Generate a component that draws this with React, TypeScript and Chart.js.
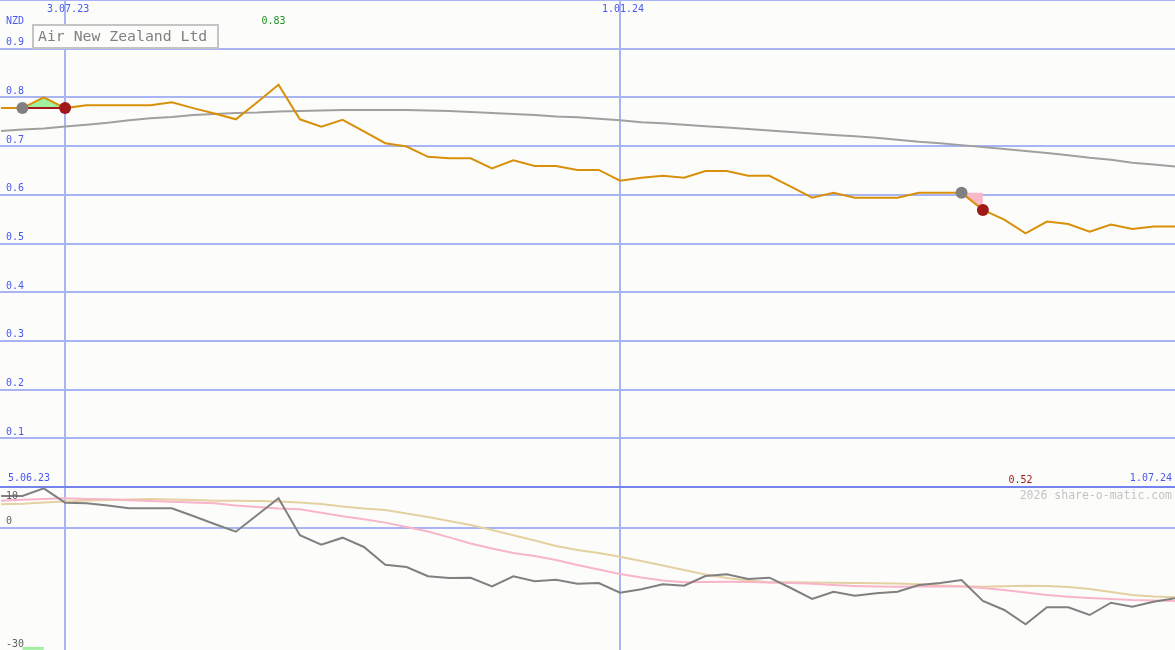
import React, { useEffect, useRef } from 'react';
import { Chart, registerables } from 'chart.js';

Chart.register(...registerables);

const FONT = '"DejaVu Sans Mono", "Liberation Mono", monospace';
const BG = '#fcfdfb';
const GRID = '#a8b4f4';
const GRID_DARK = '#7484ec';
const BLUE_TEXT = '#4858f0';

// weekly observations, week 0 .. week 55
const price = [
  0.778, 0.778, 0.8, 0.778, 0.784, 0.784, 0.784, 0.784, 0.79, 0.778,
  0.767, 0.755, 0.79, 0.826, 0.755, 0.74, 0.754, 0.73, 0.706, 0.699,
  0.678, 0.675, 0.675, 0.654, 0.671, 0.659, 0.659, 0.651, 0.651, 0.629,
  0.635, 0.639, 0.635, 0.649, 0.649, 0.639, 0.639, 0.617, 0.594, 0.604,
  0.594, 0.594, 0.594, 0.604, 0.604, 0.604, 0.569, 0.549, 0.521, 0.545,
  0.54, 0.524, 0.539, 0.53, 0.535, 0.535,
];

const longAverage = [
  0.731, 0.734, 0.736, 0.74, 0.744, 0.748, 0.753, 0.757, 0.76, 0.764,
  0.766, 0.768, 0.769, 0.771, 0.772, 0.773, 0.774, 0.774, 0.774, 0.774,
  0.773, 0.772, 0.77, 0.768, 0.766, 0.764, 0.761, 0.759, 0.756, 0.753,
  0.749, 0.747, 0.744, 0.741, 0.738, 0.735, 0.732, 0.729, 0.726, 0.723,
  0.72, 0.717, 0.713, 0.709, 0.706, 0.702, 0.698, 0.694, 0.69, 0.686,
  0.681, 0.676, 0.672, 0.666, 0.662, 0.658,
];

const momentum = [
  7.79, 7.79, 9.68, 6.15, 6.0, 5.46, 4.77, 4.77, 4.77, 2.88,
  0.92, -0.97, 3.13, 7.23, -1.85, -4.16, -2.44, -4.72, -9.07, -9.63,
  -11.91, -12.33, -12.26, -14.37, -11.91, -13.14, -12.75, -13.73, -13.55, -15.94,
  -15.1, -13.88, -14.22, -11.84, -11.42, -12.58, -12.26, -14.79, -17.48, -15.69,
  -16.67, -16.09, -15.69, -14.05, -13.56, -12.82, -17.98, -20.18, -23.69, -19.52,
  -19.52, -21.41, -18.39, -19.37, -18.15, -17.31,
];

const pinkAverage = [
  6.64, 6.86, 7.06, 7.23, 7.06, 6.98, 6.74, 6.56, 6.39, 6.2,
  6.0, 5.46, 5.09, 4.72, 4.53, 3.67, 2.81, 2.07, 1.26, 0.18,
  -0.92, -2.37, -3.87, -5.09, -6.2, -6.93, -7.91, -9.14, -10.25, -11.35,
  -12.21, -12.94, -13.39, -13.31, -13.26, -13.31, -13.44, -13.56, -13.75, -14.05,
  -14.29, -14.42, -14.47, -14.42, -14.34, -14.42, -14.79, -15.28, -15.89, -16.5,
  -16.92, -17.24, -17.48, -17.73, -17.85, -17.98,
];

const tanAverage = [
  5.75, 5.88, 6.2, 6.44, 6.69, 6.81, 6.93, 7.06, 6.93, 6.81,
  6.64, 6.61, 6.56, 6.44, 6.2, 5.83, 5.21, 4.72, 4.36, 3.5,
  2.64, 1.66, 0.67, -0.55, -1.85, -3.13, -4.48, -5.46, -6.2, -7.1,
  -8.16, -9.26, -10.37, -11.47, -12.33, -12.94, -13.39, -13.39, -13.44, -13.48,
  -13.56, -13.6, -13.68, -13.88, -14.17, -14.34, -14.47, -14.34, -14.25, -14.29,
  -14.54, -15.03, -15.77, -16.5, -16.87, -17.07,
];

const markWeeks = [3, 29];
const markLabels = ['3.07.23', '1.01.24'];
const startLabel = '5.06.23';
const endLabel = '1.07.24';
const unitLabel = 'NZD';
const title = 'Air New Zealand Ltd';
const highWeek = 13;
const highLabel = '0.83';
const lowWeek = 48;
const lowLabel = '0.52';
const watermark = '2026 share-o-matic.com';

// signals
const buyStart = 1;
const buyPeak = 2;
const buyEnd = 3;
const sellStart = 45;
const sellEnd = 46;

const topTicks = [0, 0.1, 0.2, 0.3, 0.4, 0.5, 0.6, 0.7, 0.8, 0.9, 1.0];
const bottomTicks = [-30, 0, 10];

const series = (arr: number[]) => arr.map((y, i) => ({ x: i, y }));

const noPad = (s: any) => {
  s.paddingTop = 0;
  s.paddingBottom = 0;
  s.paddingLeft = 0;
  s.paddingRight = 0;
  if (s.isHorizontal()) s.height = 0;
  else s.width = 0;
};

const topText = {
  id: 'topText',
  afterDraw(chart: any) {
    const { ctx, scales } = chart;
    const x = scales.x;
    ctx.save();
    ctx.textBaseline = 'middle';
    ctx.font = `10px ${FONT}`;
    ctx.fillStyle = BLUE_TEXT;
    ctx.textAlign = 'center';
    markWeeks.forEach((w, k) => ctx.fillText(markLabels[k], x.getPixelForValue(w) + 3, 9));
    ctx.textAlign = 'left';
    ctx.fillText(unitLabel, 6, 21);
    ctx.fillText(startLabel, 8, 478);
    ctx.textAlign = 'right';
    ctx.fillText(endLabel, 1172, 478);
    ctx.textAlign = 'center';
    ctx.fillStyle = '#209020';
    ctx.fillText(highLabel, x.getPixelForValue(highWeek) - 5, 21);
    ctx.fillStyle = '#a01818';
    ctx.fillText(lowLabel, x.getPixelForValue(lowWeek) - 5, 480);
    // title box
    ctx.fillStyle = BG;
    ctx.fillRect(33, 25, 185, 23);
    ctx.strokeStyle = '#c4c4c4';
    ctx.lineWidth = 2;
    ctx.strokeRect(33, 25, 185, 23);
    ctx.fillStyle = '#808080';
    ctx.font = `14.8px ${FONT}`;
    ctx.textAlign = 'left';
    ctx.fillText(title, 38, 37);
    ctx.restore();
  },
};

const bottomText = {
  id: 'bottomText',
  afterDraw(chart: any) {
    const { ctx, scales } = chart;
    const y = scales.y;
    ctx.save();
    ctx.textBaseline = 'middle';
    ctx.font = `10px ${FONT}`;
    ctx.fillStyle = '#606060';
    ctx.textAlign = 'left';
    ctx.fillText('10', 6, y.getPixelForValue(10) + 9);
    ctx.font = `11.5px ${FONT}`;
    ctx.fillStyle = '#c4c4c4';
    ctx.textAlign = 'right';
    ctx.fillText(watermark, 1172, y.getPixelForValue(10) + 9);
    ctx.restore();
  },
};

const xScale = () => ({
  type: 'linear',
  min: -0.05,
  max: 55,
  afterBuildTicks: (axis: any) => {
    axis.ticks = markWeeks.map((v) => ({ value: v }));
  },
  afterFit: noPad,
  grid: { color: GRID, lineWidth: 2, drawTicks: false },
  border: { display: false },
  ticks: { display: false },
});

export default function App() {
  const topRef = useRef<HTMLCanvasElement>(null);
  const botRef = useRef<HTMLCanvasElement>(null);

  useEffect(() => {
    document.body.style.margin = '0';
    document.body.style.background = BG;

    const lineBase = { pointRadius: 0, borderWidth: 2, tension: 0, fill: false };
    const common = {
      responsive: false,
      animation: false,
      events: [],
      devicePixelRatio: 1,
      layout: { padding: 0, autoPadding: false },
      plugins: { legend: { display: false }, tooltip: { enabled: false } },
    };

    const top = new Chart(topRef.current!, {
      type: 'line',
      data: {
        datasets: [
          {
            data: [
              { x: buyStart, y: price[buyStart] },
              { x: sellStart, y: price[sellStart] },
            ],
            showLine: false,
            pointRadius: 6,
            pointBackgroundColor: '#808080',
            pointBorderWidth: 0,
            order: 1,
          },
          {
            data: [
              { x: buyEnd, y: price[buyEnd] },
              { x: sellEnd, y: price[sellEnd] },
            ],
            showLine: false,
            pointRadius: 6,
            pointBackgroundColor: '#a01818',
            pointBorderWidth: 0,
            order: 0,
          },
          {
            ...lineBase,
            data: [
              { x: buyStart, y: price[buyStart] },
              { x: buyPeak, y: price[buyStart] },
              { x: buyEnd, y: price[buyStart] },
            ],
            borderColor: '#a01818',
            order: 2,
          },
          {
            ...lineBase,
            data: series(price),
            borderColor: '#d8900a',
            order: 3,
          },
          {
            ...lineBase,
            data: [
              { x: buyStart, y: price[buyStart] },
              { x: buyPeak, y: price[buyPeak] },
              { x: buyEnd, y: price[buyEnd] },
            ],
            borderWidth: 0,
            borderColor: 'rgba(0,0,0,0)',
            backgroundColor: '#a0f0a0',
            fill: { target: 2 },
            order: 4,
          },
          {
            ...lineBase,
            data: [
              { x: sellStart, y: price[sellStart] },
              { x: sellEnd, y: price[sellStart] },
            ],
            borderWidth: 0,
            borderColor: 'rgba(0,0,0,0)',
            order: 6,
          },
          {
            ...lineBase,
            data: [
              { x: sellStart, y: price[sellStart] },
              { x: sellEnd, y: price[sellEnd] },
            ],
            borderWidth: 0,
            borderColor: 'rgba(0,0,0,0)',
            backgroundColor: '#f8b8c8',
            fill: { target: 5 },
            order: 5,
          },
          {
            ...lineBase,
            data: series(longAverage),
            borderColor: '#a0a0a0',
            order: 7,
          },
        ],
      },
      options: {
        ...common,
        scales: {
          x: xScale(),
          y: {
            type: 'linear',
            min: 0,
            max: 1,
            afterBuildTicks: (axis: any) => {
              axis.ticks = topTicks.map((v) => ({ value: v }));
            },
            afterFit: noPad,
            grid: {
              drawTicks: false,
              lineWidth: 2,
              color: (c: any) => (c.tick && c.tick.value === 0 ? GRID_DARK : GRID),
            },
            border: { display: false },
            ticks: {
              mirror: true,
              padding: 6,
              labelOffset: -6,
              color: BLUE_TEXT,
              font: { family: FONT, size: 10 },
              callback: (v: any) => (v <= 0 || v >= 1 ? '' : Number(v).toFixed(1)),
            },
          },
        },
      } as any,
      plugins: [topText],
    });

    const bot = new Chart(botRef.current!, {
      type: 'line',
      data: {
        datasets: [
          { ...lineBase, data: series(momentum), borderColor: '#808080', order: 0 },
          { ...lineBase, data: series(pinkAverage), borderColor: '#f8b4c8', order: 1 },
          { ...lineBase, data: series(tanAverage), borderColor: '#e4d0a0', order: 2 },
          {
            ...lineBase,
            data: [
              { x: buyStart, y: -29.6 },
              { x: buyPeak, y: -29.6 },
            ],
            borderColor: '#a0f0a0',
            borderWidth: 3,
            order: 3,
          },
        ],
      },
      options: {
        ...common,
        scales: {
          x: xScale(),
          y: {
            type: 'linear',
            min: -30,
            max: 10,
            afterBuildTicks: (axis: any) => {
              axis.ticks = bottomTicks.map((v) => ({ value: v }));
            },
            afterFit: noPad,
            grid: {
              drawTicks: false,
              lineWidth: 2,
              color: (c: any) => {
                const v = c.tick ? c.tick.value : null;
                if (v === 10) return GRID_DARK;
                if (v === 0) return GRID;
                return 'rgba(0,0,0,0)';
              },
            },
            border: { display: false },
            ticks: {
              mirror: true,
              padding: 6,
              labelOffset: -6,
              color: '#606060',
              font: { family: FONT, size: 10 },
              callback: (v: any) => (v === 10 ? '' : String(v)),
            },
          },
        },
      } as any,
      plugins: [bottomText],
    });

    return () => {
      top.destroy();
      bot.destroy();
    };
  }, []);

  return (
    <div style={{ width: 1175, height: 650, background: BG, overflow: 'hidden' }}>
      <canvas ref={topRef} width={1175} height={487} style={{ display: 'block' }} />
      <canvas ref={botRef} width={1175} height={163} style={{ display: 'block' }} />
    </div>
  );
}
